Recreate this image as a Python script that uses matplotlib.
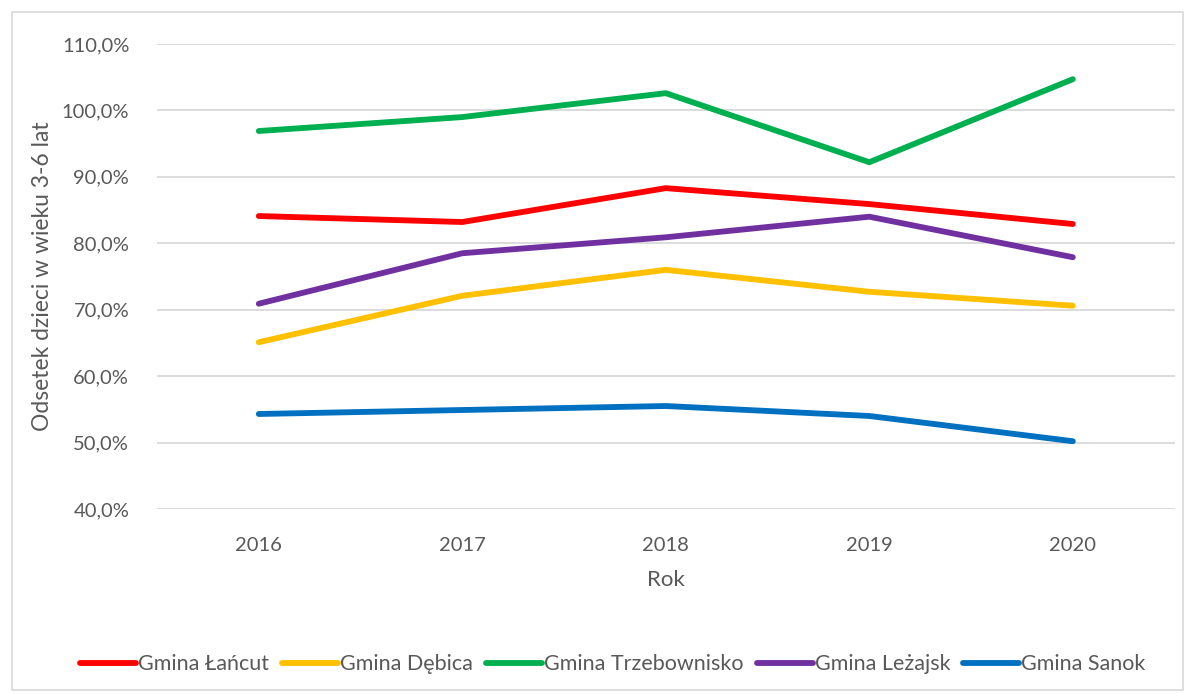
import matplotlib.pyplot as plt
from matplotlib.patches import Rectangle

plt.rcParams['font.family'] = ['Lato', 'DejaVu Sans']

years = ['2016', '2017', '2018', '2019', '2020']
lancut = [84.1, 83.2, 88.3, 85.9, 82.9]
debica = [65.1, 72.1, 76.0, 72.7, 70.6]
trzebownisko = [96.9, 99.0, 102.6, 92.2, 104.7]
lezajsk = [70.9, 78.5, 80.9, 84.0, 77.9]
sanok = [54.3, 54.9, 55.5, 54.0, 50.2]

series = [
    ('Gmina Łańcut', lancut, '#FF0000'),
    ('Gmina Dębica', debica, '#FFC000'),
    ('Gmina Trzebownisko', trzebownisko, '#00B050'),
    ('Gmina Leżajsk', lezajsk, '#7030A0'),
    ('Gmina Sanok', sanok, '#0070C0'),
]

txt = '#595959'
fig = plt.figure(figsize=(11.95, 6.94), dpi=100)
ax = fig.add_axes([0.1314, 0.2666, 0.8515, 0.67])

x = range(len(years))
for name, vals, col in series:
    ax.plot(x, vals, color=col, lw=4.2, solid_capstyle='round', label=name)

ax.set_xlim(-0.5, 4.5)
ax.set_ylim(40, 110)
ax.set_yticks(range(40, 111, 10))
ax.set_yticklabels([f'{v},0%' for v in range(40, 111, 10)])
ax.set_xticks(list(x))
ax.set_xticklabels(years)
ax.grid(axis='y', color='#D9D9D9', lw=1.3)
ax.set_axisbelow(True)
for s in ax.spines.values():
    s.set_visible(False)
ax.tick_params(length=0, labelsize=14.5, labelcolor=txt)
ax.tick_params(axis='x', pad=20)
ax.tick_params(axis='y', pad=20)
ax.set_xlabel('Rok', fontsize=16, color=txt, labelpad=12)
ax.set_ylabel('Odsetek dzieci w wieku 3-6 lat', fontsize=16.5, color=txt, labelpad=6)

fig.patches.append(Rectangle((0.01, 0.006), 0.98, 0.977, transform=fig.transFigure,
                             fill=False, edgecolor='#D9D9D9', lw=1.2))

fig.legend(loc='center', bbox_to_anchor=(0.513, 0.043), ncol=5, frameon=False,
           fontsize=15.5, labelcolor=txt, handlelength=2.6, handletextpad=0.1,
           columnspacing=0.6)

fig.savefig('out.png', dpi=100)
